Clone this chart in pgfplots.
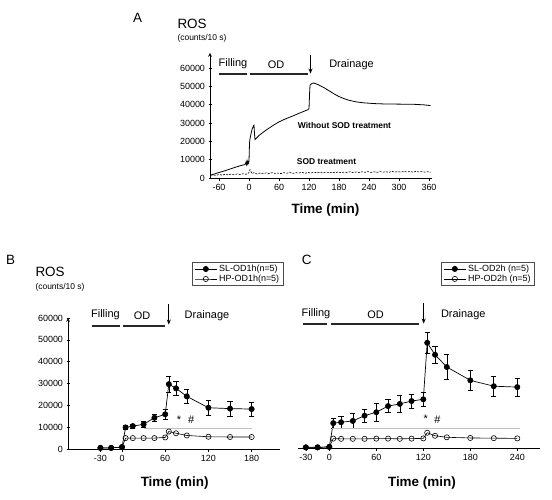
\documentclass[border=0pt]{standalone}
\usepackage{pgfplots}
\pgfplotsset{compat=1.18}
\usepackage{fontspec}
\setmainfont{Liberation Sans}
\usetikzlibrary{arrows.meta}

\tikzset{
  phase/.style={line width=2bp, black!85},
  drain/.style={-{Stealth[length=5bp,width=4bp]}, line width=0.7pt},
}
\pgfplotsset{
  panel/.style={
    scale only axis, clip=false,
    axis x line=bottom,
    axis line style={-, line width=0.7pt},
    every tick/.style={black, line width=0.6pt},
    tick align=outside, major tick length=3bp,
    scaled ticks=false,
    /pgf/number format/assume math mode=true,
    /pgf/number format/1000 sep={},
    ticklabel style={font=\fontsize{9}{10}\selectfont},
    xlabel={Time (min)},
    xlabel style={font=\bfseries\fontsize{13.5}{15}\selectfont, anchor=center},
  },
  sl/.style={black, line width=0.7pt, mark=*, mark size=2.6bp,
    mark options={solid, fill=black},
    error bars/.cd, y dir=both, y explicit,
    error bar style={line width=0.6pt},
    error mark options={rotate=90, mark size=2.6bp, line width=0.6pt}},
  hp/.style={black, line width=0.6pt, mark=o, mark size=2.6bp,
    mark options={solid, fill=white}},
  legbox/.style={legend style={draw=black!70, line width=0.9pt,
    font=\fontsize{9}{10.5}\selectfont, anchor=north west,
    inner xsep=2bp, inner ysep=1.5bp, row sep=0bp,
    nodes={inner xsep=2bp, inner ysep=1bp}},
    legend cell align=left,
    legend image code/.code={\draw[mark repeat=2,mark phase=2]
      plot coordinates {(0bp,0bp) (11bp,0bp) (22bp,0bp)};}},
}

\begin{document}
\begin{tikzpicture}
\path[use as bounding box] (0,0) rectangle (552bp,500bp);

% ---------------- Panel A: continuous recording ----------------
\node[font=\fontsize{13.5}{15}\selectfont] at (137.5bp,482bp) {A};
\node[anchor=west, font=\fontsize{13.5}{15}\selectfont] at (174bp,476bp) {ROS};
\node[anchor=west, font=\fontsize{8.5}{10}\selectfont] at (174bp,462bp) {(counts/10 s)};
\begin{axis}[panel,
  at={(210bp,322bp)}, anchor=south west,
  width=222bp, height=125bp,
  xmin=-78, xmax=366, ymin=0, ymax=68200,
  axis y line=left,
  xtick={-60,0,60,120,180,240,300,360},
  ytick={0,10000,20000,30000,40000,50000,60000},
  x label style={at={(axis description cs:0.52,0)}, yshift=-32bp},
]
% without SOD treatment
\addplot[black, line width=0.8pt] coordinates {
 (-77,1600) (-70,2100) (-60,3000) (-50,3800) (-40,4700) (-30,5600)
 (-20,6500) (-12,7100) (-8,7300) (-6,8600) (-5,7400) (-4,9300) (-3,7800)
 (-2,8900) (-1,8100) (0,9200) (1,19000) (2,21500) (4,24000) (6,26500)
 (9,28500) (10,28800) (11,24000) (12,21000) (15,21800) (20,23200)
 (30,25300) (40,27200) (50,29000) (60,30600) (70,31900) (80,33000)
 (90,34100) (100,35300) (110,36400) (118,37300) (120,37800) (121,45000)
 (122,50700) (126,51600) (130,51800) (140,50700) (150,49300) (160,47600)
 (170,45900) (180,44400) (190,43300) (200,42400) (215,41500) (230,41000)
 (250,40600) (270,40400) (300,40300) (330,40200) (350,39900) (363,39500)
};
% SOD treatment
\addplot[black, line width=0.6pt, dash pattern=on 2bp off 1.2bp] coordinates {
 (-77,1500) (-72,1700) (-66,1400) (-60,1900) (-54,1600) (-48,2000)
 (-42,1700) (-36,2100) (-30,1800) (-24,2200) (-18,1900) (-12,2300)
 (-6,2000) (-2,2600) (0,3000) (2,4600) (4,3500) (6,2400) (10,2900)
 (16,2200) (22,2700) (28,2300) (34,2800) (40,2400) (46,2900) (52,2500)
 (58,2700) (64,2400) (70,2900) (76,2600) (82,3000) (88,2500) (94,2900)
 (100,2700) (106,3100) (112,2600) (118,3000) (124,2700) (130,3200)
 (136,2800) (142,3100) (148,2700) (154,3300) (160,2900) (166,3200)
 (172,2800) (178,3300) (184,2900) (190,3200) (196,3000) (202,3400)
 (208,2900) (214,3300) (220,3000) (226,3400) (232,3100) (238,3500)
 (244,3000) (250,3400) (256,3100) (262,3500) (268,3200) (274,3400)
 (280,3100) (286,3600) (292,3200) (298,3500) (304,3200) (310,3600)
 (316,3300) (322,3500) (328,3200) (334,3600) (340,3300) (346,3500)
 (352,3200) (358,3400) (363,3100)
};
\draw[phase] (axis cs:-60,56700) -- (axis cs:-5,56700);
\draw[phase] (axis cs:2,56700) -- (axis cs:117,56700);
\node[font=\fontsize{11}{12}\selectfont] at (axis cs:-32,62300) {Filling};
\node[font=\fontsize{11}{12}\selectfont] at (axis cs:54,62000) {OD};
\node[font=\fontsize{11}{12}\selectfont] at (axis cs:205,62000) {Drainage};
\draw[drain] (axis cs:123,67200) -- (axis cs:123,57000);
\node[font=\bfseries\fontsize{8.5}{10}\selectfont] at (axis cs:191,28400) {Without SOD treatment};
\node[font=\bfseries\fontsize{8.5}{10}\selectfont] at (axis cs:155,8900) {SOD treatment};
\end{axis}

% ---------------- Panel B: 1 h dwell ----------------
\node[font=\fontsize{13.5}{15}\selectfont] at (10.5bp,240.5bp) {B};
\node[anchor=west, font=\fontsize{13.5}{15}\selectfont] at (32bp,228bp) {ROS};
\node[anchor=west, font=\fontsize{8.5}{10}\selectfont] at (32bp,213bp) {(counts/10 s)};
\begin{axis}[panel, legbox,
  at={(68bp,51bp)}, anchor=south west,
  width=212bp, height=131bp,
  xmin=-75, xmax=219.4, ymin=0, ymax=60000,
  axis y line=left,
  xtick={-30,0,60,120,180},
  ytick={0,10000,20000,30000,40000,50000,60000},
  x label style={at={(axis description cs:0.503,0)}, yshift=-34bp},
  legend style={at={(0.585,1.427)}},
]
\addplot[sl] coordinates {
 (-30,500) +- (0,0) (-15,500) +- (0,0) (0,900) +- (0,0)
 (5,9900) +- (0,1000) (15,10500) +- (0,1000) (30,11300) +- (0,1300)
 (45,14300) +- (0,1700) (60,15900) +- (0,2300) (65,29700) +- (0,3800)
 (75,27800) +- (0,3300) (90,24100) +- (0,3300) (120,18900) +- (0,3600)
 (150,18500) +- (0,3300) (180,18300) +- (0,3100)
};
\addlegendentry{SL-OD1h(n=5)}
\addplot[hp] coordinates {
 (-30,500) (-15,500) (0,900) (5,5000) (15,5000) (30,5000) (45,5000)
 (60,5300) (65,8000) (75,7200) (90,6200) (120,5600) (150,5500) (180,5500)
};
\addlegendentry{HP-OD1h(n=5)}
\addplot[black!25, line width=0.9pt, forget plot] coordinates {(30,9200) (180,9200)};
\draw[phase] (axis cs:-42,56400) -- (axis cs:-2.5,56400);
\draw[phase] (axis cs:1.5,56400) -- (axis cs:60,56400);
\node[font=\fontsize{11}{12}\selectfont] at (axis cs:-23,61600) {Filling};
\node[font=\fontsize{11}{12}\selectfont] at (axis cs:28,61000) {OD};
\node[font=\fontsize{11}{12}\selectfont] at (axis cs:118,61000) {Drainage};
\draw[drain] (axis cs:65,66500) -- (axis cs:65,57000);
\node[font=\fontsize{11}{12}\selectfont] at (axis cs:79,13600) {*};
\node[font=\fontsize{11}{12}\selectfont] at (axis cs:96,13300) {\#};
\end{axis}

% ---------------- Panel C: 2 h dwell ----------------
\node[font=\fontsize{13.5}{15}\selectfont] at (306.7bp,240bp) {C};
\begin{axis}[panel, legbox,
  at={(298bp,52bp)}, anchor=south west,
  width=242bp, height=131bp,
  xmin=-40, xmax=269, ymin=0, ymax=60000,
  axis y line=none,
  xtick={-30,0,60,120,180,240},
  x label style={at={(axis description cs:0.512,0)}, yshift=-35bp},
  legend style={at={(0.591,1.42)}},
]
\addplot[sl] coordinates {
 (-30,300) +- (0,0) (-15,300) +- (0,0) (0,500) +- (0,0)
 (5,11400) +- (0,2300) (15,11800) +- (0,2900) (30,12400) +- (0,3300)
 (45,14800) +- (0,3100) (60,16400) +- (0,4100) (75,19200) +- (0,3000)
 (90,20200) +- (0,3800) (105,21500) +- (0,3300) (120,22300) +- (0,3400)
 (125,48200) +- (0,5000) (135,42700) +- (0,3800) (150,37100) +- (0,5600)
 (180,31000) +- (0,4800) (210,28300) +- (0,4700) (240,27900) +- (0,4000)
};
\addlegendentry{SL-OD2h (n=5)}
\addplot[hp] coordinates {
 (-30,300) (-15,300) (0,500) (5,4300) (15,4200) (30,4200) (45,4200)
 (60,4300) (75,4300) (90,4200) (105,4300) (120,4400) (125,7000)
 (135,5600) (150,4900) (180,4600) (210,4500) (240,4400)
};
\addlegendentry{HP-OD2h (n=5)}
\addplot[black!25, line width=0.9pt, forget plot] coordinates {(4,8800) (243,8800)};
\draw[phase] (axis cs:-34,56700) -- (axis cs:-3.4,56700);
\draw[phase] (axis cs:2,56700) -- (axis cs:115,56700);
\node[font=\fontsize{11}{12}\selectfont] at (axis cs:-17,61600) {Filling};
\node[font=\fontsize{11}{12}\selectfont] at (axis cs:59,61000) {OD};
\node[font=\fontsize{11}{12}\selectfont] at (axis cs:171,61000) {Drainage};
\draw[drain] (axis cs:120.5,66500) -- (axis cs:120.5,57000);
\node[font=\fontsize{11}{12}\selectfont] at (axis cs:123,13600) {*};
\node[font=\fontsize{11}{12}\selectfont] at (axis cs:138,12800) {\#};
\end{axis}
\end{tikzpicture}
\end{document}
